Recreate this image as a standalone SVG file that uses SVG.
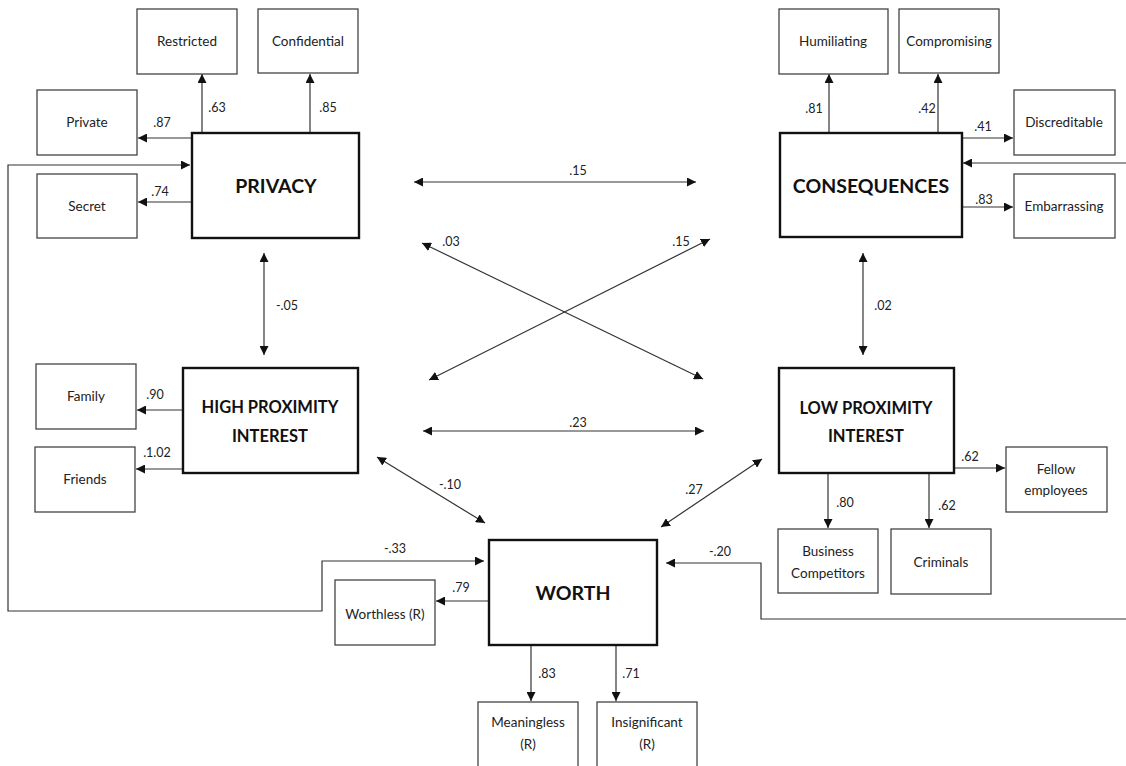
<svg xmlns="http://www.w3.org/2000/svg" width="1126" height="766" viewBox="0 0 1126 766">
  <defs>
    <marker id="ah" viewBox="0 0 10 10" refX="10" refY="5" markerWidth="9" markerHeight="9" markerUnits="userSpaceOnUse" orient="auto-start-reverse">
      <path d="M0,0 L10,5 L0,10 Z" fill="#111"/>
    </marker>
    <style>
      .box { fill: #fff; stroke: #444; stroke-width: 1.3; }
      .latent { fill: #fff; stroke: #111; stroke-width: 2.4; }
      .lbl { font-family: Lato, "Open Sans", "Liberation Sans", sans-serif; font-size: 13.5px; fill: #222; text-anchor: middle; }
      .hdr { font-family: Lato, "Open Sans", "Liberation Sans", sans-serif; font-weight: bold; fill: #111; text-anchor: middle; }
      .coef { font-family: Lato, "Open Sans", "Liberation Sans", sans-serif; font-size: 12.5px; fill: #222; text-anchor: middle; }
      .ln { fill: none; stroke: #333; stroke-width: 1.2; }
      .one { marker-end: url(#ah); }
      .two { marker-start: url(#ah); marker-end: url(#ah); }
    </style>
  </defs>

  <rect width="1126" height="766" fill="#fff"/>

  <!-- connectors -->
  <g id="connectors">
    <!-- privacy indicators -->
    <line class="ln one" x1="202" y1="133" x2="202" y2="74"/>
    <line class="ln one" x1="310" y1="133" x2="310" y2="74"/>
    <line class="ln one" x1="192" y1="138" x2="138" y2="138"/>
    <line class="ln one" x1="192" y1="202" x2="138" y2="202"/>
    <!-- consequences indicators -->
    <line class="ln one" x1="829" y1="132" x2="829" y2="74"/>
    <line class="ln one" x1="938" y1="132" x2="938" y2="74"/>
    <line class="ln one" x1="962" y1="138" x2="1013" y2="138"/>
    <line class="ln one" x1="962" y1="207" x2="1013" y2="207"/>
    <line class="ln one" x1="1126" y1="163" x2="963" y2="163"/>
    <!-- high proximity indicators -->
    <line class="ln one" x1="183" y1="410" x2="137" y2="410"/>
    <line class="ln one" x1="183" y1="469" x2="136" y2="469"/>
    <!-- low proximity indicators -->
    <line class="ln one" x1="954" y1="468" x2="1005" y2="468"/>
    <line class="ln one" x1="828" y1="473" x2="828" y2="528"/>
    <line class="ln one" x1="929" y1="473" x2="929" y2="528"/>
    <!-- worth indicators -->
    <line class="ln one" x1="489" y1="601" x2="436" y2="601"/>
    <line class="ln one" x1="531" y1="645" x2="531" y2="701"/>
    <line class="ln one" x1="616" y1="645" x2="616" y2="701"/>
    <!-- correlations -->
    <line class="ln two" x1="414" y1="182" x2="696" y2="182"/>
    <line class="ln two" x1="422" y1="243" x2="703" y2="379"/>
    <line class="ln two" x1="710" y1="239" x2="429" y2="380"/>
    <line class="ln two" x1="423" y1="431" x2="704" y2="431"/>
    <line class="ln two" x1="264" y1="253" x2="264" y2="355"/>
    <line class="ln two" x1="863" y1="253" x2="863" y2="355"/>
    <line class="ln two" x1="377" y1="457" x2="485" y2="523"/>
    <line class="ln two" x1="762" y1="459" x2="661" y2="527"/>
    <!-- long paths into worth and the latent boxes -->
    <polyline class="ln two" points="190,165 8,165 8,611 322,611 322,561 484,561"/>
    <polyline class="ln one" points="1126,619 761,619 761,563 666,563"/>
  </g>

  <!-- privacy -->
  <g id="privacy">
    <rect class="latent" x="192" y="133" width="167" height="105"/>
    <text class="hdr" x="276" y="193" font-size="19.5">PRIVACY</text>
  </g>
  <g id="restricted"><rect class="box" x="137" y="9" width="100" height="65"/><text class="lbl" x="187" y="46">Restricted</text></g>
  <g id="confidential"><rect class="box" x="258" y="9" width="100" height="64"/><text class="lbl" x="308" y="46">Confidential</text></g>
  <g id="private"><rect class="box" x="37" y="90" width="100" height="65"/><text class="lbl" x="87" y="127">Private</text></g>
  <g id="secret"><rect class="box" x="37" y="174" width="100" height="64"/><text class="lbl" x="87" y="211">Secret</text></g>

  <!-- consequences -->
  <g id="consequences">
    <rect class="latent" x="780" y="133" width="182" height="104"/>
    <text class="hdr" x="871" y="193" font-size="19.5">CONSEQUENCES</text>
  </g>
  <g id="humiliating"><rect class="box" x="779" y="9" width="109" height="65"/><text class="lbl" x="833" y="46">Humiliating</text></g>
  <g id="compromising"><rect class="box" x="899" y="9" width="100" height="64"/><text class="lbl" x="949" y="46">Compromising</text></g>
  <g id="discreditable"><rect class="box" x="1014" y="90" width="101" height="65"/><text class="lbl" x="1064" y="127">Discreditable</text></g>
  <g id="embarrassing"><rect class="box" x="1014" y="174" width="101" height="64"/><text class="lbl" x="1064" y="211">Embarrassing</text></g>

  <!-- high proximity interest -->
  <g id="high-proximity">
    <rect class="latent" x="183" y="368" width="175" height="105"/>
    <text class="hdr" x="270" y="413" font-size="16.5">HIGH PROXIMITY</text>
    <text class="hdr" x="270" y="442" font-size="16.5">INTEREST</text>
  </g>
  <g id="family"><rect class="box" x="36" y="364" width="100" height="65"/><text class="lbl" x="86" y="401">Family</text></g>
  <g id="friends"><rect class="box" x="35" y="447" width="100" height="65"/><text class="lbl" x="85" y="484">Friends</text></g>

  <!-- low proximity interest -->
  <g id="low-proximity">
    <rect class="latent" x="779" y="368" width="175" height="105"/>
    <text class="hdr" x="866" y="414" font-size="16.5">LOW PROXIMITY</text>
    <text class="hdr" x="866" y="442" font-size="16.5">INTEREST</text>
  </g>
  <g id="fellow-employees"><rect class="box" x="1006" y="447" width="101" height="65"/><text class="lbl" x="1056" y="474">Fellow</text><text class="lbl" x="1056" y="495">employees</text></g>
  <g id="business-competitors"><rect class="box" x="778" y="529" width="100" height="64"/><text class="lbl" x="828" y="556">Business</text><text class="lbl" x="828" y="578">Competitors</text></g>
  <g id="criminals"><rect class="box" x="891" y="529" width="100" height="65"/><text class="lbl" x="941" y="567">Criminals</text></g>

  <!-- worth -->
  <g id="worth">
    <rect class="latent" x="489" y="540" width="168" height="105"/>
    <text class="hdr" x="573" y="600" font-size="19.5">WORTH</text>
  </g>
  <g id="worthless"><rect class="box" x="335" y="580" width="100" height="65"/><text class="lbl" x="385" y="619">Worthless (R)</text></g>
  <g id="meaningless"><rect class="box" x="478" y="702" width="100" height="70"/><text class="lbl" x="528" y="727">Meaningless</text><text class="lbl" x="528" y="749">(R)</text></g>
  <g id="insignificant"><rect class="box" x="597" y="702" width="100" height="70"/><text class="lbl" x="647" y="727">Insignificant</text><text class="lbl" x="647" y="749">(R)</text></g>

  <!-- coefficients -->
  <g id="coefficients">
    <text class="coef" x="162" y="127">.87</text>
    <text class="coef" x="217" y="112">.63</text>
    <text class="coef" x="328" y="112">.85</text>
    <text class="coef" x="160" y="196">.74</text>
    <text class="coef" x="814" y="113">.81</text>
    <text class="coef" x="927" y="113">.42</text>
    <text class="coef" x="983" y="131">.41</text>
    <text class="coef" x="984" y="204">.83</text>
    <text class="coef" x="578" y="175">.15</text>
    <text class="coef" x="451" y="246">.03</text>
    <text class="coef" x="681" y="246">.15</text>
    <text class="coef" x="578" y="427">.23</text>
    <text class="coef" x="155" y="399">.90</text>
    <text class="coef" x="157" y="457">.1.02</text>
    <text class="coef" x="287" y="310">-.05</text>
    <text class="coef" x="883" y="310">.02</text>
    <text class="coef" x="450" y="489">-.10</text>
    <text class="coef" x="694" y="494">.27</text>
    <text class="coef" x="970" y="461">.62</text>
    <text class="coef" x="845" y="507">.80</text>
    <text class="coef" x="947" y="510">.62</text>
    <text class="coef" x="720" y="556">-.20</text>
    <text class="coef" x="395" y="553">-.33</text>
    <text class="coef" x="461" y="592">.79</text>
    <text class="coef" x="547" y="678">.83</text>
    <text class="coef" x="631" y="678">.71</text>
  </g>
</svg>
